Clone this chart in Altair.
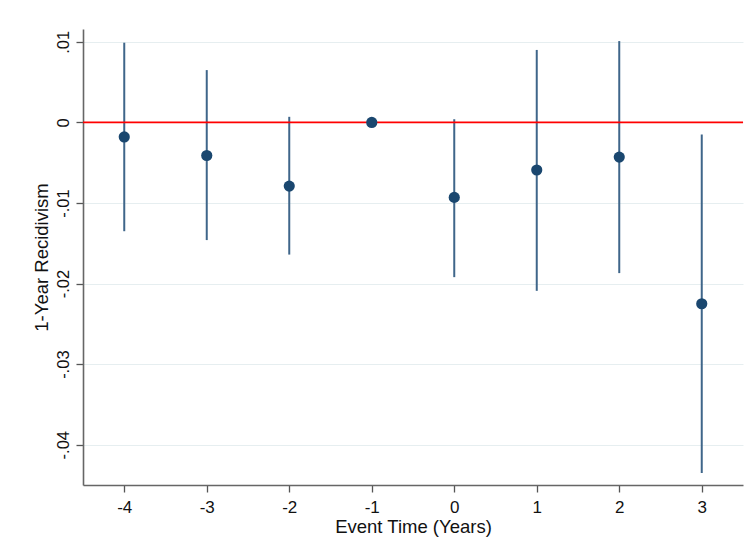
import altair as alt
import pandas as pd

# Data
event_time = [-4, -3, -2, -1, 0, 1, 2, 3]
estimate = [-0.0018, -0.0041, -0.0079, 0.0, -0.0093, -0.0059, -0.0043, -0.0225]
ci_low = [-0.0135, -0.0146, -0.0164, None, -0.0192, -0.0209, -0.0187, -0.0435]
ci_high = [0.0099, 0.0065, 0.0007, None, 0.0004, 0.0090, 0.0101, -0.0015]

x_ticks = [-4, -3, -2, -1, 0, 1, 2, 3]
y_ticks = [0.01, 0.0, -0.01, -0.02, -0.03, -0.04]

df = pd.DataFrame({"t": event_time, "b": estimate, "lo": ci_low, "hi": ci_high})
ci_df = df.dropna()
zero_df = pd.DataFrame({"z": [0.0]})

x_scale = alt.Scale(domain=[-4.5, 3.5], nice=False, zero=False)
y_scale = alt.Scale(domain=[-0.045, 0.0116], nice=False, zero=False)

FONT = "Liberation Sans"

x_axis = alt.Axis(
    values=x_ticks, title="Event Time (Years)", grid=False,
    labelExpr="'' + datum.value",
    tickSize=7, tickColor="#555555", tickWidth=1.3,
    domainColor="#666666", domainWidth=1.6,
    labelFont=FONT, labelFontSize=17, labelColor="#111111", labelPadding=7,
    titleFont=FONT, titleFontSize=18.5, titleFontWeight="normal", titleColor="#111111",
    titlePadding=2,
)
y_axis = alt.Axis(
    values=y_ticks, title="1-Year Recidivism", grid=True,
    gridColor="#e6eef0", gridWidth=1,
    labelExpr="datum.value == 0 ? '0' : replace('' + datum.value, '0.', '.')",
    labelAngle=-90, labelAlign="center", labelBaseline="bottom",
    tickSize=7, tickColor="#555555", tickWidth=1.3,
    domainColor="#666666", domainWidth=1.6,
    labelFont=FONT, labelFontSize=16.5, labelColor="#111111", labelPadding=5,
    titleFont=FONT, titleFontSize=18.5, titleFontWeight="normal", titleColor="#111111",
    titlePadding=4,
)

ci = alt.Chart(ci_df).mark_rule(color="#3f668a", strokeWidth=2).encode(
    x=alt.X("t:Q", scale=x_scale, axis=x_axis),
    y=alt.Y("lo:Q", scale=y_scale, axis=y_axis),
    y2="hi:Q",
)

zero_line = alt.Chart(zero_df).mark_rule(color="#ff0000", strokeWidth=1.8).encode(
    y=alt.Y("z:Q", scale=y_scale),
)

points = alt.Chart(df).mark_point(
    filled=True, color="#1a476f", size=125, opacity=1
).encode(
    x=alt.X("t:Q", scale=x_scale),
    y=alt.Y("b:Q", scale=y_scale),
)

chart = (
    alt.layer(ci, zero_line, points)
    .properties(
        width=660, height=456,
        autosize=alt.AutoSizeParams(type="none"),
        padding={"left": 75, "top": 21, "right": 2, "bottom": 62},
        background="white",
    )
    .configure_view(stroke=None)
)

chart.save("out.html", embed_options={"renderer": "svg", "actions": False})
